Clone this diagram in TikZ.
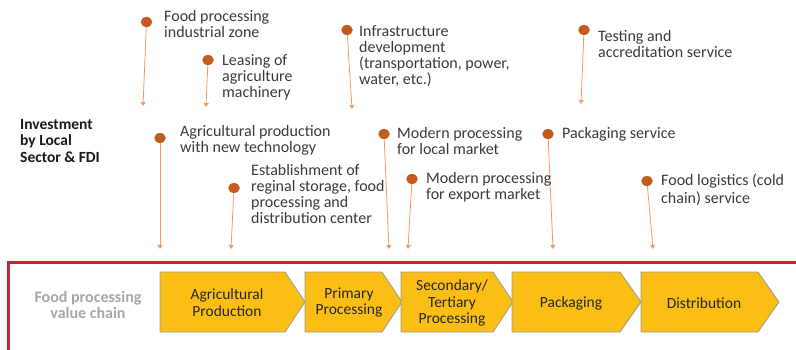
\documentclass[tikz,border=0pt]{standalone}
\usepackage{fontspec}
\setmainfont{Carlito}
\usetikzlibrary{arrows.meta,shapes.geometric}
\definecolor{dotc}{HTML}{C55A1E}
\definecolor{linec}{HTML}{F29A62}
\definecolor{txtc}{HTML}{3A3A3A}
\definecolor{chevfill}{HTML}{FBBE15}
\definecolor{chevline}{HTML}{9A9A9A}
\definecolor{framec}{HTML}{C1272D}
\definecolor{vcgray}{HTML}{A6A6A6}
\tikzset{
  lbl/.style={anchor=north west, inner sep=0pt, align=left, text=txtc,
    font=\fontsize{16}{16}\selectfont},
  dotn/.style={ellipse, fill=dotc, minimum width=11.5pt, minimum height=10pt, inner sep=0pt},
  conn/.style={draw=linec, line width=0.8pt, -{Triangle[width=5pt,length=4pt]}},
  chev/.style={fill=chevfill, draw=chevline, line width=0.8pt},
  chevtxt/.style={align=center, inner sep=0pt, text=black!85,
    font=\fontsize{15.5}{16.5}\selectfont},
}
\begin{document}
\begin{tikzpicture}[x=1pt,y=-1pt]
\useasboundingbox (0,0) rectangle (796,350);
% frame
\draw[framec, line width=3pt] (8,352) -- (8,262) -- (798,262);
% left labels
\node[lbl, text=black!90, font=\bfseries\fontsize{15.5}{16.5}\selectfont] (inv) at (20,117.5) {\strut Investment\\by Local\\Sector \& FDI};
\node[align=center, inner sep=0pt, text=vcgray, font=\bfseries\fontsize{16}{16}\selectfont] (vc) at (88,305) {Food processing\\value chain};
% chevrons
\filldraw[chev] (160,272) -- (285,272) -- (305,302) -- (285,332) -- (160,332) -- cycle;
\filldraw[chev] (305,272) -- (382,272) -- (402,302) -- (382,332) -- (305,332) -- cycle;
\filldraw[chev] (401,272) -- (493,272) -- (513,302) -- (493,332) -- (401,332) -- cycle;
\filldraw[chev] (512,272) -- (620,272) -- (641,302) -- (620,332) -- (512,332) -- cycle;
\filldraw[chev] (641,272) -- (758,272) -- (779,302) -- (758,332) -- (641,332) -- cycle;
\node[chevtxt] (c1) at (227,302.5) {Agricultural\\Production};
\node[chevtxt] (c2) at (349,302.5) {Primary\\Processing};
\node[chevtxt] (c3) at (452,303) {Secondary/\\Tertiary\\Processing};
\node[chevtxt] (c4) at (571,303) {Packaging};
\node[chevtxt] (c5) at (704,303) {Distribution};
% end points
\coordinate (e1) at (143,106);
\coordinate (e2) at (206,107);
\coordinate (e3) at (352,109);
\coordinate (e4) at (581,104);
\coordinate (e6) at (160,249);
\coordinate (e7) at (231,249);
\coordinate (e8) at (389,249);
\coordinate (e9) at (408,249);
\coordinate (e10) at (553,249);
\coordinate (e11) at (653,249);
% dots
\node[dotn] (d1) at (146.5,22) {};
\node[dotn] (d2) at (208,60) {};
\node[dotn] (d3) at (347,30) {};
\node[dotn] (d4) at (584,30) {};
\node[dotn] (d6) at (160,138) {};
\node[dotn] (d7) at (234,188) {};
\node[dotn] (d8) at (384,134) {};
\node[dotn] (d9) at (412,179) {};
\node[dotn] (d10) at (548,134) {};
\node[dotn] (d11) at (647,181) {};
% connectors
\foreach \i in {1,2,3,4,6,7,8,9,10,11} { \draw[conn] (d\i) -- (e\i); }
% labels
\node[lbl] (t1) at (164,9.8) {\strut Food processing\\industrial zone};
\node[lbl] (t2) at (222,53.8) {\strut Leasing of\\agriculture\\machinery};
\node[lbl] (t3) at (359,24.8) {\strut Infrastructure\\development\\(transportation, power,\\water, etc.)};
\node[lbl] (t4) at (598,29.8) {\strut Testing and\\accreditation service};
\node[lbl] (t6) at (180,124.8) {\strut Agricultural production\\with new technology};
\node[lbl] (t7) at (251,163.8) {\strut Establishment of\\reginal storage, food\\processing and\\distribution center};
\node[lbl] (t8) at (397,126.8) {\strut Modern processing\\for local market};
\node[lbl] (t9) at (426,171.8) {\strut Modern processing\\for export market};
\node[lbl] (t10) at (562,126.8) {\strut Packaging service};
\node[lbl] (t11) at (661,173.8) {\strut Food logistics (cold\\chain) service};
\end{tikzpicture}
\end{document}
